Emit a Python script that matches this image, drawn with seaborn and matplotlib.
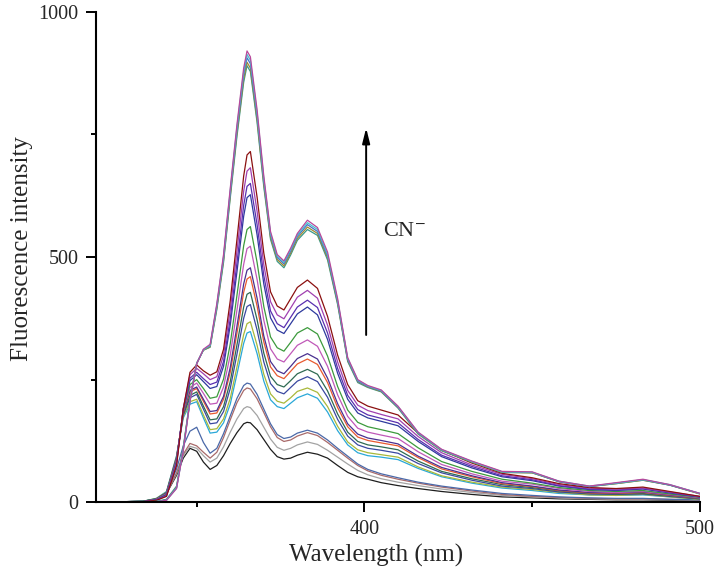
import pandas as pd
import numpy as np
import matplotlib
matplotlib.use("Agg")
import matplotlib.pyplot as plt
from matplotlib.ticker import FixedLocator
import seaborn as sns

# ------------------------------------------------------------
# data (wavelength in nm, intensity a.u.)
# ------------------------------------------------------------
wavelength = [320, 334, 338, 341, 344, 346, 348, 350, 352, 354, 356, 358,
              360, 362, 364, 365, 366, 368, 370, 372, 374, 376, 378, 380,
              383, 386, 389, 392, 395, 398, 401, 405, 410, 416, 423, 432,
              441, 450, 458, 467, 475, 483, 491, 500]

black = [0, 2, 6, 18, 55, 90, 110, 104, 82, 67, 75, 95, 120, 142, 160, 163,
         162, 148, 128, 108, 93, 88, 90, 96, 102, 98, 90, 75, 61, 52, 47, 40,
         34, 28, 22, 16, 11, 9, 7, 6, 5, 5, 4, 3]
gray = [0, 2, 6, 19, 58, 95, 114, 110, 95, 82, 90, 113, 143, 170, 191, 195,
        193, 177, 153, 129, 112, 106, 110, 117, 123, 118, 106, 92, 78, 65, 56,
        48, 41, 34, 27, 20, 14, 11, 9, 7, 6, 6, 5, 4]
brown = [0, 2, 6, 19, 60, 98, 120, 115, 102, 90, 102, 132, 168, 203, 228, 233,
         231, 211, 183, 154, 132, 124, 127, 135, 142, 136, 122, 106, 90, 75,
         64, 55, 47, 39, 31, 23, 16, 12, 10, 8, 7, 7, 6, 5]
steel = [0, 2, 7, 20, 68, 115, 145, 153, 122, 100, 110, 140, 176, 212, 238,
         243, 241, 220, 190, 160, 138, 130, 133, 141, 147, 141, 127, 110, 94,
         78, 67, 58, 50, 41, 33, 25, 18, 14, 11, 9, 8, 8, 6, 5]
cyan = [0, 2, 8, 22, 95, 172, 200, 205, 172, 141, 143, 162, 200, 261, 324, 345,
        348, 303, 247, 209, 195, 191, 202, 213, 221, 212, 184, 146, 117, 101,
        95, 92, 87, 69, 52, 39, 29, 24, 18, 15, 14, 15, 11, 6]
olive = [0, 2, 8, 21, 94, 175, 205, 210, 178, 148, 150, 170, 212, 276, 342,
         364, 368, 320, 261, 221, 206, 202, 213, 226, 233, 224, 195, 155, 123,
         107, 101, 97, 92, 72, 54, 41, 31, 26, 20, 15, 14, 16, 11, 6]
navy2 = [0, 2, 7, 20, 92, 178, 213, 220, 190, 160, 162, 185, 232, 302, 375,
         399, 403, 351, 286, 242, 226, 221, 234, 247, 256, 246, 214, 169, 135,
         117, 110, 106, 100, 79, 60, 45, 33, 28, 21, 17, 16, 17, 12, 7]
dark_green = [0, 2, 7, 19, 90, 180, 218, 225, 196, 168, 170, 195, 246, 321,
              398, 424, 428, 372, 304, 257, 240, 235, 248, 262, 271, 261, 227,
              180, 143, 124, 117, 113, 107, 84, 63, 48, 36, 30, 23, 18, 17, 18,
              13, 7]
orange = [0, 1, 6, 18, 88, 183, 225, 232, 206, 180, 182, 210, 265, 345, 428,
          455, 460, 400, 327, 276, 258, 252, 267, 282, 292, 281, 244, 193, 154,
          133, 126, 121, 115, 91, 68, 52, 38, 32, 24, 19, 18, 20, 14, 8]
indigo = [0, 1, 6, 18, 88, 184, 228, 235, 210, 185, 187, 216, 275, 359, 445,
          473, 478, 416, 339, 287, 268, 262, 277, 293, 303, 292, 253, 201, 160,
          139, 131, 126, 119, 94, 71, 54, 40, 33, 25, 20, 19, 21, 15, 8]
orchid = [0, 1, 6, 17, 86, 186, 234, 243, 222, 200, 202, 235, 300, 392, 485,
          517, 522, 454, 371, 313, 292, 286, 303, 320, 331, 318, 277, 219, 175,
          151, 143, 137, 130, 103, 77, 58, 43, 37, 28, 22, 20, 22, 16, 9]
green = [0, 1, 5, 16, 84, 188, 240, 250, 232, 212, 215, 251, 323, 422, 523,
         556, 562, 489, 399, 337, 315, 308, 326, 345, 356, 343, 298, 236, 188,
         163, 154, 148, 140, 111, 83, 63, 47, 39, 30, 24, 22, 24, 17, 10]
navy = [0, 1, 5, 15, 82, 190, 248, 260, 246, 232, 236, 277, 361, 470, 583,
        621, 627, 545, 445, 376, 351, 344, 364, 384, 398, 382, 332, 263, 210,
        182, 172, 165, 156, 124, 93, 70, 52, 44, 33, 26, 24, 27, 19, 11]
violet = [0, 1, 5, 14, 80, 190, 253, 265, 252, 240, 245, 287, 374, 488, 605,
          644, 650, 566, 462, 390, 364, 356, 377, 398, 412, 397, 345, 273, 218,
          189, 178, 171, 162, 128, 96, 73, 54, 46, 34, 27, 25, 28, 20, 11]
purple = [0, 1, 4, 13, 78, 192, 260, 273, 262, 250, 256, 300, 392, 512, 634,
          675, 682, 593, 484, 409, 382, 374, 396, 418, 432, 416, 361, 286, 228,
          198, 187, 179, 170, 134, 101, 76, 57, 48, 36, 29, 27, 29, 21, 12]
dark_red = [0, 1, 4, 12, 75, 190, 265, 280, 268, 259, 266, 312, 411, 536, 665,
            708, 715, 622, 508, 429, 400, 392, 415, 438, 453, 436, 379, 300,
            240, 207, 196, 188, 178, 141, 106, 80, 59, 50, 38, 30, 28, 31, 22,
            12]
top_teal = [0, 0, 2, 6, 33, 112, 210, 284, 310, 316, 393, 489, 620, 746, 856,
            890, 878, 774, 643, 536, 491, 478, 504, 534, 556, 544, 494, 403,
            287, 244, 234, 225, 192, 139, 105, 82, 61, 60, 42, 32, 38, 45, 35,
            17]
top_olive = [0, 0, 1, 5, 31, 110, 208, 283, 310, 317, 396, 493, 625, 752, 863,
             897, 885, 780, 648, 540, 495, 482, 508, 538, 561, 548, 498, 406,
             289, 246, 235, 226, 193, 140, 106, 82, 61, 60, 42, 32, 38, 45, 35,
             17]
top_blue = [0, 0, 1, 5, 30, 108, 207, 283, 311, 319, 400, 498, 631, 759, 872,
            906, 894, 788, 655, 545, 499, 486, 512, 542, 566, 552, 502, 409,
            291, 247, 236, 227, 194, 141, 107, 83, 62, 61, 42, 32, 39, 46, 35,
            18]
top_cyan = [0, 0, 1, 4, 29, 106, 206, 282, 311, 320, 402, 501, 636, 765, 878,
            913, 901, 794, 660, 548, 502, 489, 515, 545, 570, 556, 505, 412,
            293, 249, 237, 228, 195, 142, 107, 83, 62, 61, 43, 33, 39, 46, 36,
            18]
top_magenta = [0, 0, 1, 4, 28, 105, 205, 282, 312, 322, 405, 505, 640, 770,
               885, 920, 908, 800, 665, 552, 505, 492, 518, 548, 575, 560, 510,
               415, 295, 250, 238, 229, 196, 143, 108, 84, 63, 62, 43, 33, 40,
               47, 36, 18]

spectra = {
    "black": black, "gray": gray, "brown": brown, "steel": steel,
    "cyan": cyan, "olive": olive, "navy2": navy2, "dark_green": dark_green,
    "orange": orange, "indigo": indigo, "orchid": orchid, "green": green,
    "navy": navy, "violet": violet, "purple": purple, "dark_red": dark_red,
    "top_teal": top_teal, "top_olive": top_olive, "top_blue": top_blue,
    "top_cyan": top_cyan, "top_magenta": top_magenta,
}

colors = {
    "black": "#1e1e1e", "gray": "#a3a3a3", "brown": "#a86a6a",
    "steel": "#4a68a8", "cyan": "#2aa8d8", "olive": "#a8b83a",
    "navy2": "#3a48a0", "dark_green": "#2f6a52", "orange": "#e85a30",
    "indigo": "#4a3090", "orchid": "#c058b8", "green": "#3c9a3c",
    "navy": "#2e3a9e", "violet": "#5a30b0", "purple": "#a040b0",
    "dark_red": "#8b1010", "top_teal": "#3a9a8a", "top_olive": "#a08a30",
    "top_blue": "#4a70c8", "top_cyan": "#48c0d0", "top_magenta": "#b8489b",
}

# long format for seaborn
frames = []
for name, vals in spectra.items():
    frames.append(pd.DataFrame({"wavelength": wavelength,
                                "intensity": vals,
                                "curve": name}))
df = pd.concat(frames, ignore_index=True)

# ------------------------------------------------------------
# plot
# ------------------------------------------------------------
sns.set_style("ticks")
plt.rcParams["font.family"] = ["Liberation Serif", "DejaVu Serif"]
plt.rcParams["mathtext.fontset"] = "stix"

fig = plt.figure(figsize=(7.14, 5.79), dpi=100)
ax = fig.add_axes([0.1345, 0.1325, 0.8459, 0.8473])

sns.lineplot(data=df, x="wavelength", y="intensity", hue="curve",
             hue_order=list(spectra.keys()), palette=colors,
             estimator=None, legend=False, linewidth=0.9, ax=ax)

ax.set_xlim(320, 500)
ax.set_ylim(0, 1000)

ax.xaxis.set_major_locator(FixedLocator([400, 500]))
ax.xaxis.set_minor_locator(FixedLocator([350, 450]))
ax.yaxis.set_major_locator(FixedLocator([0, 500, 1000]))
ax.yaxis.set_minor_locator(FixedLocator([250, 750]))

ax.tick_params(which="major", direction="out", length=7.2, width=1.4,
               labelsize=14.5, pad=5.5, color="black")
ax.tick_params(which="minor", direction="out", length=3.6, width=1.4,
               color="black")

sns.despine(ax=ax)
for side in ["left", "bottom"]:
    ax.spines[side].set_linewidth(1.5)
    ax.spines[side].set_color("black")

ax.set_xlabel("Wavelength (nm)", fontsize=18)
ax.set_ylabel("Fluorescence intensity", fontsize=18)
ax.xaxis.set_label_coords(0.464, -0.085)
ax.yaxis.set_label_coords(-0.104, 0.518)

# titration arrow
ax.annotate("", xy=(400.5, 763), xytext=(400.5, 341),
            arrowprops=dict(arrowstyle="-|>,head_length=0.6,head_width=0.15",
                            mutation_scale=15, lw=1.4, color="black",
                            shrinkA=0, shrinkB=0))
ax.text(405.4, 551, r"CN$^{-}$", fontsize=16, va="center", ha="left")

fig.savefig("out.png", dpi=100)
